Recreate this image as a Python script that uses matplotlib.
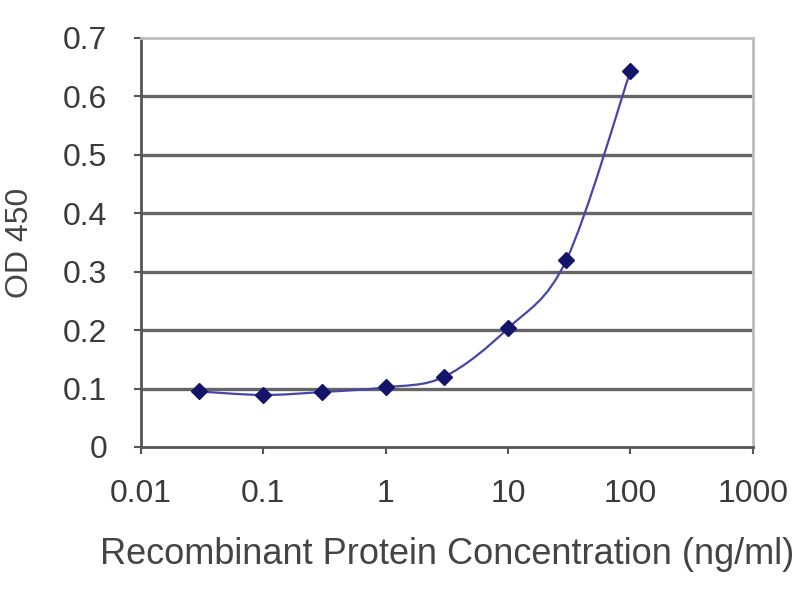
import numpy as np
import matplotlib.pyplot as plt
from matplotlib.path import Path
from matplotlib.patches import PathPatch

# Konsantrasyon (ng/ml) ve OD 450 değerleri
konsantrasyon = [0.03, 0.1, 0.3, 1, 3, 10, 30, 100]
od450 = [0.095, 0.089, 0.094, 0.102, 0.120, 0.203, 0.320, 0.643]

x_ticks = [0.01, 0.1, 1, 10, 100, 1000]
x_tick_labels = ['0.01', '0.1', '1', '10', '100', '1000']
y_ticks = [0, 0.1, 0.2, 0.3, 0.4, 0.5, 0.6, 0.7]
y_tick_labels = ['0', '0.1', '0.2', '0.3', '0.4', '0.5', '0.6', '0.7']

plt.rcParams['font.family'] = ['Liberation Sans', 'DejaVu Sans']


# Excel tarzı yumuşak çizgi için Bezier yolu (log-x uzayında)
def yumusak_yol(xs, ys):
    lx = np.log10(xs)
    ys = np.asarray(ys, dtype=float)
    verts = [(xs[0], ys[0])]
    codes = [Path.MOVETO]
    n = len(lx)
    for i in range(n - 1):
        p0 = (lx[max(i - 1, 0)], ys[max(i - 1, 0)])
        p1 = (lx[i], ys[i])
        p2 = (lx[i + 1], ys[i + 1])
        p3 = (lx[min(i + 2, n - 1)], ys[min(i + 2, n - 1)])
        t = 1 / 6
        c1 = (p1[0] + (p2[0] - p0[0]) * t, p1[1] + (p2[1] - p0[1]) * t)
        c2 = (p2[0] - (p3[0] - p1[0]) * t, p2[1] - (p3[1] - p1[1]) * t)
        for c in (c1, c2, p2):
            verts.append((10 ** c[0], c[1]))
            codes.append(Path.CURVE4)
    return Path(verts, codes)


fig = plt.figure(figsize=(8, 6), dpi=100)
ax = fig.add_axes([0.176, 0.255, 0.765, 0.682])
ax.set_xscale('log')
ax.set_xlim(0.01, 1000)
ax.set_ylim(0, 0.7)

for y in y_ticks[1:-1]:
    ax.axhline(y, color='#666666', lw=2.4, zorder=1)

patch = PathPatch(yumusak_yol(konsantrasyon, od450), facecolor='none',
                  edgecolor='#4646a6', lw=1.6, zorder=2)
ax.add_patch(patch)
ax.plot(konsantrasyon, od450, linestyle='none', marker='D', ms=8,
        color='#14146a', zorder=3)

ax.set_xticks(x_ticks)
ax.set_xticklabels(x_tick_labels)
ax.minorticks_off()
ax.set_yticks(y_ticks)
ax.set_yticklabels(y_tick_labels)
ax.tick_params(axis='both', labelsize=23, colors='#555555', labelcolor='#3a3a3a',
               length=5, width=1.5, direction='out')
ax.tick_params(axis='x', pad=18)
ax.tick_params(axis='y', pad=19)

ax.spines['left'].set_color('#555555')
ax.spines['bottom'].set_color('#555555')
ax.spines['left'].set_linewidth(2)
ax.spines['bottom'].set_linewidth(2)
ax.spines['top'].set_color('#bdbdbd')
ax.spines['right'].set_color('#bdbdbd')
ax.spines['top'].set_linewidth(2)
ax.spines['right'].set_linewidth(2)

ax.set_xlabel('Recombinant Protein Concentration (ng/ml)', fontsize=26,
              color='#444444', labelpad=20)
ax.set_ylabel('OD 450', fontsize=23, color='#444444', labelpad=20)

fig.savefig('out.png', dpi=100)
